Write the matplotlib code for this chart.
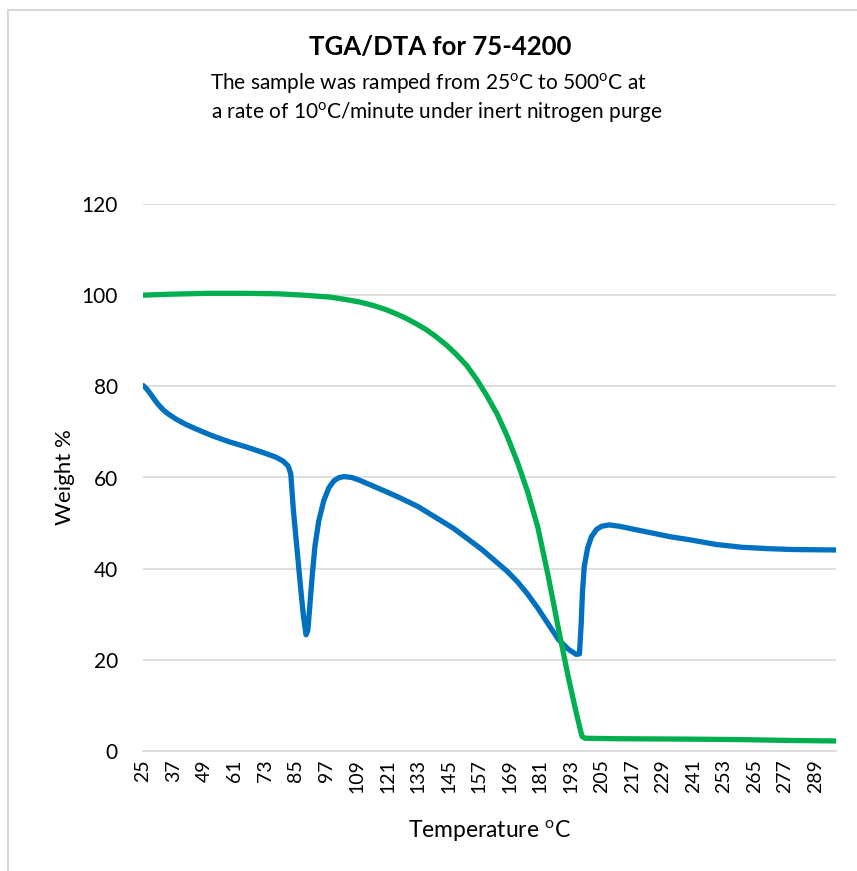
import matplotlib
matplotlib.use("Agg")
import matplotlib.pyplot as plt
from matplotlib.patches import Rectangle

plt.rcParams['font.family'] = ['Lato', 'DejaVu Sans']
plt.rcParams['mathtext.fontset'] = 'custom'
plt.rcParams['mathtext.rm'] = 'Lato'
plt.rcParams['mathtext.it'] = 'Lato:italic'
plt.rcParams['mathtext.bf'] = 'Lato:bold'

# ---- data ----
weight_temp = [25, 35, 50, 65, 78, 88, 98, 104, 110, 115, 120, 124, 128, 132, 136, 140,
               144, 148, 152, 156, 160, 164, 168, 172, 176, 180, 184, 188, 192, 195,
               197.3, 198.5, 210, 240, 260, 280, 297]
weight_val = [100.0, 100.2, 100.4, 100.4, 100.3, 100.0, 99.6, 99.1, 98.5, 97.8, 96.9,
              96.0, 95.0, 93.8, 92.5, 90.9, 89.1, 87.0, 84.6, 81.5, 77.9, 73.9, 69.0,
              63.3, 56.8, 49.0, 38.5, 27.0, 16.0, 8.5, 3.2, 2.8, 2.7, 2.6, 2.5, 2.3, 2.2]

dta_temp = [25, 26.5, 28, 29.5, 31, 33, 35, 38, 42, 46, 52, 59, 65, 72, 77, 80, 82, 83,
            84, 85, 86, 87, 88, 89, 89.7, 90.5, 91.5, 92.5, 94, 96, 98, 100, 102, 104,
            107, 110, 115, 120, 126, 133, 140, 147, 153, 158, 163, 168, 172, 176, 180,
            184, 188, 192, 195, 196.3, 197, 197.5, 198.2, 199.5, 201, 203, 205, 208,
            212, 218, 225, 232, 240, 250, 260, 270, 280, 297]
dta_val = [80.2, 79.4, 78.3, 77.1, 76.0, 74.8, 73.9, 72.8, 71.6, 70.6, 69.2, 67.8,
           66.8, 65.5, 64.5, 63.6, 62.5, 60.8, 53.0, 47.0, 41.0, 35.0, 29.5, 25.5,
           26.5, 32.0, 39.0, 45.0, 50.5, 55.0, 57.8, 59.3, 60.0, 60.2, 60.0, 59.4,
           58.2, 57.0, 55.5, 53.6, 51.2, 48.8, 46.3, 44.2, 41.8, 39.4, 37.1, 34.4,
           31.3, 27.9, 24.5, 22.3, 21.2, 21.3, 28.0, 35.0, 40.5, 44.5, 47.0, 48.6,
           49.3, 49.6, 49.3, 48.6, 47.8, 47.0, 46.3, 45.3, 44.7, 44.4, 44.2, 44.1]

x_ticks = list(range(25, 290, 12))
y_ticks = [0, 20, 40, 60, 80, 100, 120]

GREEN = '#00B050'
BLUE = '#0070C0'
GRID = '#D9D9D9'
TEXT = '#000000'

fig = plt.figure(figsize=(8.57, 8.71), dpi=100)
W, H = 857, 871
ax = fig.add_axes([143 / W, 1 - 751 / H, (836 - 143) / W, (751 - 204) / H])

ax.plot(dta_temp, dta_val, color=BLUE, lw=3.8, solid_capstyle='round', solid_joinstyle='round', zorder=3)
ax.plot(weight_temp, weight_val, color=GREEN, lw=3.8, solid_capstyle='round', solid_joinstyle='round', zorder=4)

ax.set_xlim(25, 297)
ax.set_ylim(0, 120)
ax.set_yticks(y_ticks)
ax.set_xticks(x_ticks)
ax.set_xticklabels([str(t) for t in x_ticks], rotation=90, fontsize=14)
ax.set_yticklabels([str(v) for v in y_ticks], fontsize=15)
ax.tick_params(axis='both', length=0, colors=TEXT)
ax.tick_params(axis='y', pad=18)
ax.tick_params(axis='x', pad=6)
ax.grid(axis='y', color=GRID, lw=1.2, zorder=0)
ax.set_axisbelow(True)
for s in ['top', 'right', 'left']:
    ax.spines[s].set_visible(False)
ax.spines['bottom'].set_color(GRID)
ax.spines['bottom'].set_linewidth(1.2)

ax.set_ylabel('Weight %', fontsize=16, labelpad=5)
ax.set_xlabel(r'Temperature $^{\rm o}$C', fontsize=16.5, labelpad=18)

fig.text(440 / W, 1 - 47 / H, 'TGA/DTA for 75-4200', ha='center', va='center',
         fontsize=18.5, fontweight='bold')
fig.text(428 / W, 1 - 83 / H, r'The sample was ramped from 25$^{\rm o}$C to 500$^{\rm o}$C at',
         ha='center', va='center', fontsize=15)
fig.text(437 / W, 1 - 112 / H, r'a rate of 10$^{\rm o}$C/minute under inert nitrogen purge',
         ha='center', va='center', fontsize=15)

fig.patches.append(Rectangle((8 / W, -0.1), 1.2, 1 - 10 / H + 0.1, transform=fig.transFigure,
                             fill=False, edgecolor=GRID, lw=1.5))

fig.savefig('out.png', dpi=100)
